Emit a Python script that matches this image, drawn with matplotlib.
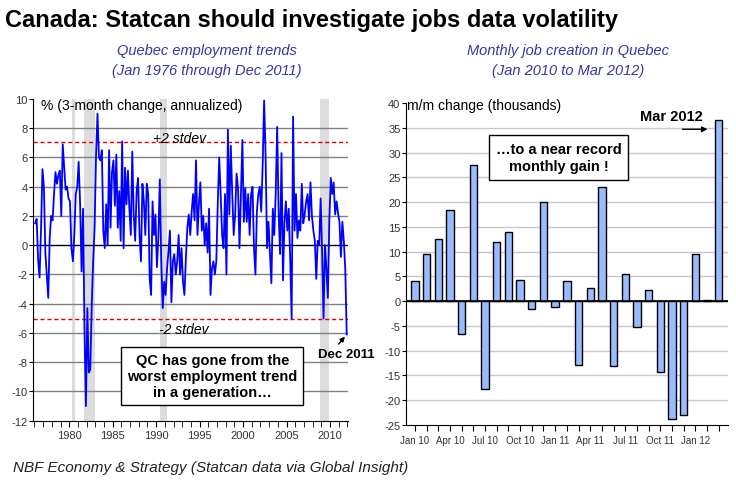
import numpy as np
import pandas as pd
import matplotlib.pyplot as plt
from matplotlib.ticker import MultipleLocator, FixedLocator

# Left panel: Quebec employment, 3-month change annualized (%), read every 2nd month
qc_trend = [
    1.5, 1.8, -1.0, -2.2, 1.0, 5.2,      # 1976
    4.0, -0.5, -2.0, -3.6, 0.5, 2.0,     # 1977
    1.7, 3.5, 5.0, 4.2, 4.8, 5.1,        # 1978
    2.0, 6.9, 5.3, 3.8, 4.0, 3.2,        # 1979
    3.0, -0.2, -1.1, 0.7, 3.5, 4.0,      # 1980
    5.7, 2.8, -1.8, 2.5, -5.7, -11.0,    # 1981
    -4.3, -8.7, -8.5, -4.2, -1.1, 1.2,   # 1982
    6.2, 9.0, 6.0, 5.8, 6.5, 1.0,        # 1983
    -0.2, 2.8, 0.0, 6.5, 1.2, 5.0,       # 1984
    5.8, 2.7, 6.2, 1.2, 3.7, 0.3,        # 1985
    7.1, -0.2, 5.3, 2.8, 5.1, 2.5,       # 1986
    0.7, 6.4, 2.1, 0.3, 3.7, 4.6,        # 1987
    0.7, -1.1, 4.2, 3.0, 0.7, 4.2,       # 1988
    3.5, -2.3, -3.4, 3.0, 0.7, 2.1,      # 1989
    -1.5, 0.5, 4.5, -1.1, -4.3, -2.5,    # 1990
    -3.4, -1.6, -0.4, 1.0, -3.9, -1.1,   # 1991
    -0.6, -2.0, -1.1, 0.7, -2.0, -0.2,   # 1992
    -2.5, -3.4, -0.9, 1.2, 2.1, 0.7,     # 1993
    2.3, 3.5, 1.7, 5.8, 0.7, 2.8,        # 1994
    4.3, 1.0, 2.0, 0.0, 1.5, -0.5,       # 1995
    2.5, -3.4, -1.6, -1.1, -2.0, -1.1,   # 1996
    2.8, 6.0, 3.5, 0.7, -0.2, 3.5,       # 1997
    -2.0, 7.9, 2.1, 6.8, 3.5, 0.7,       # 1998
    2.1, 4.9, 3.9, -0.2, 3.5, 7.2,       # 1999
    1.6, 3.9, 1.6, 3.5, 0.7, 3.5,        # 2000
    4.0, -0.2, -2.0, 2.3, 3.5, 4.0,      # 2001
    2.3, 5.5, 9.9, 6.2, -0.2, 1.6,       # 2002
    -0.5, -2.6, 2.5, 0.7, 3.5, 8.1,      # 2003
    2.3, -0.6, 6.3, -2.4, 1.5, 3.0,      # 2004
    1.0, 2.5, -1.0, -5.0, 8.8, 1.0,      # 2005
    3.5, 0.5, 1.7, 1.0, 4.2, 1.5,        # 2006
    2.1, 3.0, 3.5, 1.7, 4.3, 2.0,        # 2007
    1.0, 0.3, -2.3, 0.3, 0.0, 3.2,       # 2008
    -0.4, -5.0, 0.0, -1.6, -3.6, 1.7,    # 2009
    4.6, 3.5, 4.3, 2.1, 3.0, 2.2,        # 2010
    1.6, -0.8, 1.6, 0.3, -1.6, -6.1,     # 2011
]
recessions = [(1980.3, 1980.7), (1981.65, 1983.0), (1990.45, 1991.2), (2008.85, 2009.9)]
stdev_hi = 7.05
stdev_lo = -5.05

# Right panel: monthly job creation in Quebec (thousands)
months = ['Jan 10', 'Feb 10', 'Mar 10', 'Apr 10', 'May 10', 'Jun 10', 'Jul 10', 'Aug 10', 'Sep 10',
          'Oct 10', 'Nov 10', 'Dec 10', 'Jan 11', 'Feb 11', 'Mar 11', 'Apr 11', 'May 11', 'Jun 11',
          'Jul 11', 'Aug 11', 'Sep 11', 'Oct 11', 'Nov 11', 'Dec 11', 'Jan 12', 'Feb 12', 'Mar 12']
job_chg = [4.0, 9.5, 12.5, 18.4, -6.7, 27.5, -17.8, 12.0, 14.0, 4.2, -1.6, 20.0, -1.2, 4.0,
           -12.8, 2.6, 23.0, -13.0, 5.4, -5.3, 2.2, -14.4, -23.8, -23.0, 9.5, 0.2, 36.5]

SANS = ['Liberation Sans', 'DejaVu Sans']
plt.rcParams['font.family'] = SANS
plt.rcParams['axes.unicode_minus'] = False

dates = pd.date_range('1976-02-01', periods=len(qc_trend), freq='2MS')
years = dates.year + (dates.month - 1) / 12

fig = plt.figure(figsize=(7.36, 4.85), dpi=100)

fig.text(5 / 736, 1 - 20 / 485, 'Canada: Statcan should investigate jobs data volatility',
         fontsize=17, fontweight='bold', va='center', ha='left')
fig.text(207 / 736, 1 - 61 / 485, 'Quebec employment trends\n(Jan 1976 through Dec 2011)',
         style='italic', fontsize=10.5, color='#3535a8', ha='center', va='center',
         linespacing=1.6)
fig.text(568 / 736, 1 - 61 / 485, 'Monthly job creation in Quebec\n(Jan 2010 to Mar 2012)',
         style='italic', fontsize=10.5, color='#3535a8', ha='center', va='center',
         linespacing=1.6)
fig.text(13 / 736, 1 - 468 / 485, 'NBF Economy & Strategy (Statcan data via Global Insight)',
         style='italic', fontsize=11, color='#222222', va='center', ha='left')

# ---- left: employment trend
ax1 = fig.add_axes([33 / 736, 1 - 421.7 / 485, 315.3 / 736, 321.7 / 485])
ax1.set_xlim(1975.83, 2012.1)
ax1.set_ylim(-12, 10)
for a, b in recessions:
    ax1.axvspan(a, b, color='#dcdcdc', lw=0, zorder=0)
for v in range(-10, 10, 2):
    ax1.axhline(v, color='black' if v == 0 else '#808080', lw=1, zorder=1)
ax1.axhline(stdev_hi, color='#e00000', lw=1, ls=(0, (3, 2)), zorder=2)
ax1.axhline(stdev_lo, color='#e00000', lw=1, ls=(0, (3, 2)), zorder=2)
ax1.plot(years, qc_trend, color='#0000ff', lw=1.3, zorder=3)

for s in ['top', 'right']:
    ax1.spines[s].set_visible(False)
ax1.xaxis.set_major_locator(FixedLocator(range(1980, 2011, 5)))
ax1.xaxis.set_minor_locator(MultipleLocator(1))
ax1.yaxis.set_major_locator(MultipleLocator(2))
ax1.tick_params(axis='x', which='both', length=4, direction='out', pad=3)
ax1.tick_params(axis='y', length=3, direction='out', pad=1)
for lab in ax1.get_xticklabels() + ax1.get_yticklabels():
    lab.set_fontsize(8)
    lab.set_color('#333333')

ax1.text(0.025, 0.981, '% (3-month change, annualized)', transform=ax1.transAxes,
         fontsize=10, va='center', ha='left')
ax1.text(0.466, stdev_hi + 0.3, '+2 stdev', transform=ax1.get_yaxis_transform(),
         style='italic', fontsize=10, ha='center', va='center')
ax1.text(0.479, stdev_lo - 0.7, '-2 stdev', transform=ax1.get_yaxis_transform(),
         style='italic', fontsize=10, ha='center', va='center')
ax1.text(0.569, 0.139, 'QC has gone from the\nworst employment trend\nin a generation…',
         transform=ax1.transAxes, fontsize=10.5, fontweight='bold', ha='center', va='center',
         linespacing=1.2, zorder=5,
         bbox=dict(boxstyle='square,pad=0.4', fc='white', ec='black', lw=1))
ax1.annotate('Dec 2011', xy=(years[-1], qc_trend[-1]), xytext=(0, -14), textcoords='offset points',
             fontsize=9.5, fontweight='bold', ha='center', va='center', annotation_clip=False,
             arrowprops=dict(arrowstyle='-|>', color='black', lw=1, mutation_scale=7,
                             shrinkA=1, shrinkB=2, relpos=(0.3, 1.0)))

# ---- right: monthly job creation
ax2 = fig.add_axes([406 / 736, 1 - 426 / 485, 322 / 736, 322 / 485])
idx = np.arange(len(job_chg))
ax2.set_xlim(-0.77, 26.8)
ax2.set_ylim(-25, 40)
for v in range(-20, 40, 5):
    ax2.axhline(v, color='black' if v == 0 else '#c8c8c8', lw=1, zorder=1)
ax2.bar(idx, job_chg, width=0.63, color='#99bbff', edgecolor='black', lw=1, zorder=2)
ax2.axhline(0, color='black', lw=1.2, zorder=3)

for s in ['top', 'right']:
    ax2.spines[s].set_visible(False)
ax2.set_xticks(idx)
ax2.set_xticklabels([m if i % 3 == 0 else '' for i, m in enumerate(months)])
ax2.yaxis.set_major_locator(MultipleLocator(5))
ax2.tick_params(axis='x', length=4, direction='out', pad=3)
ax2.tick_params(axis='y', length=3, direction='out', pad=1)
for lab in ax2.get_xticklabels():
    lab.set_fontsize(7)
    lab.set_color('#333333')
for lab in ax2.get_yticklabels():
    lab.set_fontsize(8)
    lab.set_color('#333333')

ax2.text(0.003, 0.994, 'm/m change (thousands)', transform=ax2.transAxes,
         fontsize=10, va='center', ha='left')
ax2.text(0.4745, 0.831, '…to a near record\nmonthly gain !', transform=ax2.transAxes,
         fontsize=10.5, fontweight='bold', ha='center', va='center', linespacing=1.3,
         bbox=dict(boxstyle='square,pad=0.45', fc='white', ec='black', lw=1), zorder=5)
last = idx[-1]
ax2.annotate('', xy=(last - 0.95, job_chg[-1] - 1.8), xytext=(last - 3.1, job_chg[-1] - 1.8),
             arrowprops=dict(arrowstyle='-|>', color='black', lw=1, mutation_scale=8,
                             shrinkA=0, shrinkB=0))
ax2.text(last - 4.05, job_chg[-1] + 0.9, 'Mar 2012', fontsize=10.5, fontweight='bold',
         ha='center', va='center')

fig.savefig('out.png', dpi=100)
